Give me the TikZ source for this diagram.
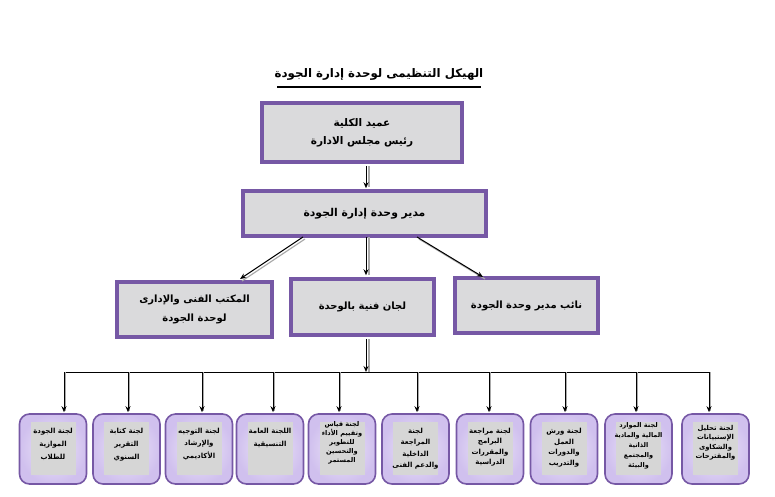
\documentclass[tikz,border=0pt]{standalone}
\usepackage{fontspec}
\newfontfamily\arabicfont[Script=Arabic]{DejaVu Sans}
\TeXXeTstate=1
\usetikzlibrary{arrows.meta,shadows,calc}
\newcommand\AR[1]{\beginR #1\endR}
\definecolor{boxpurple}{RGB}{118,88,165}
\definecolor{boxgray}{RGB}{218,218,220}
\definecolor{lav}{RGB}{208,192,238}
\definecolor{innergray}{RGB}{214,214,214}
\definecolor{shgray}{RGB}{170,170,170}
\tikzset{
  mainbox/.style={draw=boxpurple, line width=3.5pt, fill=boxgray, align=center,
    font=\arabicfont\bfseries\fontsize{10.5}{18}\selectfont, inner sep=0pt,
    drop shadow={shadow xshift=2pt, shadow yshift=-2pt, fill=black!55, opacity=0.8}},
  lvlthree/.style={font=\arabicfont\bfseries\fontsize{10}{19}\selectfont},
  subbox/.style={draw=boxpurple, line width=1.6pt, rounded corners=10pt,
    inner color=lav!35, outer color=lav, minimum width=67pt, minimum height=70pt, inner sep=0pt},
  innerbox/.style={fill=innergray, minimum width=45pt, minimum height=53pt, inner sep=0pt},
  subtext/.style={align=center, anchor=north, inner sep=0pt},
  conn/.style={line width=1pt, -{Stealth[length=6pt,width=5pt]}},
  shconn/.style={line width=1.2pt, shgray},
  busline/.style={line width=1pt}
}
\newcommand\sfnt[2]{\arabicfont\bfseries\fontsize{#1}{#2}\selectfont}
\begin{document}
\begin{tikzpicture}[x=1pt,y=-1pt]
\useasboundingbox (0,0) rectangle (775,496);
% title
\node[font=\sfnt{11.8}{14}, inner sep=0pt] (title) at (379,74) {\AR{الهيكل التنظيمى لوحدة إدارة الجودة}};
\draw[line width=1.2pt] (277,87) -- (481,87);
% main boxes
\node[mainbox, minimum width=200pt, minimum height=59pt] (dean) at (362,132.5)
  {\AR{عميد الكلية}\\\AR{رئيس مجلس الادارة}};
\node[mainbox, minimum width=243pt, minimum height=45pt, font=\sfnt{10.8}{18}] (dir) at (364.5,213.5)
  {\AR{مدير وحدة إدارة الجودة}};
\node[mainbox, lvlthree, minimum width=155pt, minimum height=55pt] (off) at (194.5,309.5)
  {\AR{المكتب الفنى والإدارى}\\\AR{لوحدة الجودة}};
\node[mainbox, lvlthree, minimum width=143pt, minimum height=56pt] (comm) at (362.5,307)
  {\AR{لجان فنية بالوحدة}};
\node[mainbox, lvlthree, minimum width=143pt, minimum height=55pt] (dep) at (526.5,305.5)
  {\AR{نائب مدير وحدة الجودة}};
% connectors between main boxes
\coordinate (d1) at (dean.south -| 366,0);
\coordinate (d2) at (dir.north -| 366,0);
\draw[shconn] ($(d1)+(3,2)$) -- ($(d2)+(3,-2)$);
\draw[conn] ($(d1)+(0,2)$) -- ($(d2)+(0,-1)$);
\coordinate (s1) at (303,237);
\coordinate (e1) at (240,279);
\coordinate (s2) at (366,237);
\coordinate (s3) at (417,237);
\coordinate (e3) at (483,277);
\draw[shconn] (305,239) -- (242,281);
\draw[conn] (s1) -- (e1);
\draw[shconn] ($(s2)+(3,0)$) -- ($(s2 |- comm.north)+(3,-2)$);
\draw[conn] (s2) -- ($(s2 |- comm.north)+(0,-2)$);
\draw[shconn] (419,239) -- (485,279);
\draw[conn] (s3) -- (e3);
% bus
\coordinate (c1) at (comm.south -| 366,0);
\coordinate (bm) at (366,372);
\draw[shconn] ($(c1)+(3,2)$) -- ($(bm)+(3,0)$);
\draw[conn] ($(c1)+(0,2)$) -- (bm);
\draw[busline] (64,372) -- (709,372);
% bottom boxes
\foreach \i/\cx/\dx in {1/53/64, 2/126.5/128, 3/199/202, 4/270/273, 5/342/339,
  6/415.5/417, 7/490/489, 8/564/565, 9/638.5/636, 10/715.5/709} {
  \node[subbox] (b\i) at (\cx,449) {};
  \node[innerbox] (g\i) at (\cx,448.5) {};
  \coordinate (t\i) at (\dx,372);
  \draw[shconn, line width=0.8pt] ($(t\i)+(1.5,0)$) -- ($(t\i |- b\i.north)+(1.5,-2)$);
  \draw[conn] (t\i) -- ($(t\i |- b\i.north)+(0,-1)$);
}
\node[subtext, font=\sfnt{7}{13}] at ($(g1.north)+(0,6)$) {\AR{لجنة الجودة}\\\AR{الموازية}\\\AR{للطلاب}};
\node[subtext, font=\sfnt{7}{13}] at ($(g2.north)+(0,6)$) {\AR{لجنة كتابة}\\\AR{التقرير}\\\AR{السنوي}};
\node[subtext, font=\sfnt{7}{12.5}] at ($(g3.north)+(0,6)$) {\AR{لجنة التوجيه}\\\AR{والإرشاد}\\\AR{الأكاديمي}};
\node[subtext, font=\sfnt{7}{13}] at ($(g4.north)+(0,6)$) {\AR{اللجنة العامة}\\\AR{التنسيقية}};
\node[subtext, font=\sfnt{6.6}{9}] at ($(g5.north)+(0,-1)$) {\AR{لجنة قياس}\\\AR{وتقييم الأداء}\\\AR{للتطوير}\\\AR{والتحسين}\\\AR{المستمر}};
\node[subtext, font=\sfnt{7}{11.5}] at ($(g6.north)+(0,6)$) {\AR{لجنة}\\\AR{المراجعة}\\\AR{الداخلية}\\\AR{والدعم الفنى}};
\node[subtext, font=\sfnt{7}{10.5}] at ($(g7.north)+(0,6)$) {\AR{لجنة مراجعة}\\\AR{البرامج}\\\AR{والمقررات}\\\AR{الدراسية}};
\node[subtext, font=\sfnt{7}{10.7}] at ($(g8.north)+(0,6)$) {\AR{لجنة ورش}\\\AR{العمل}\\\AR{والدورات}\\\AR{والتدريب}};
\node[subtext, font=\sfnt{6.5}{9.8}] at ($(g9.north)+(0,1)$) {\AR{لجنة الموارد}\\\AR{المالية والمادية}\\\AR{الذاتية}\\\AR{والمجتمع}\\\AR{والبيئة}};
\node[subtext, font=\sfnt{6.8}{9.6}] at ($(g10.north)+(0,3)$) {\AR{لجنة تحليل}\\\AR{الإستبيانات}\\\AR{والشكاوى}\\\AR{والمقترحات}};
\end{tikzpicture}
\end{document}
